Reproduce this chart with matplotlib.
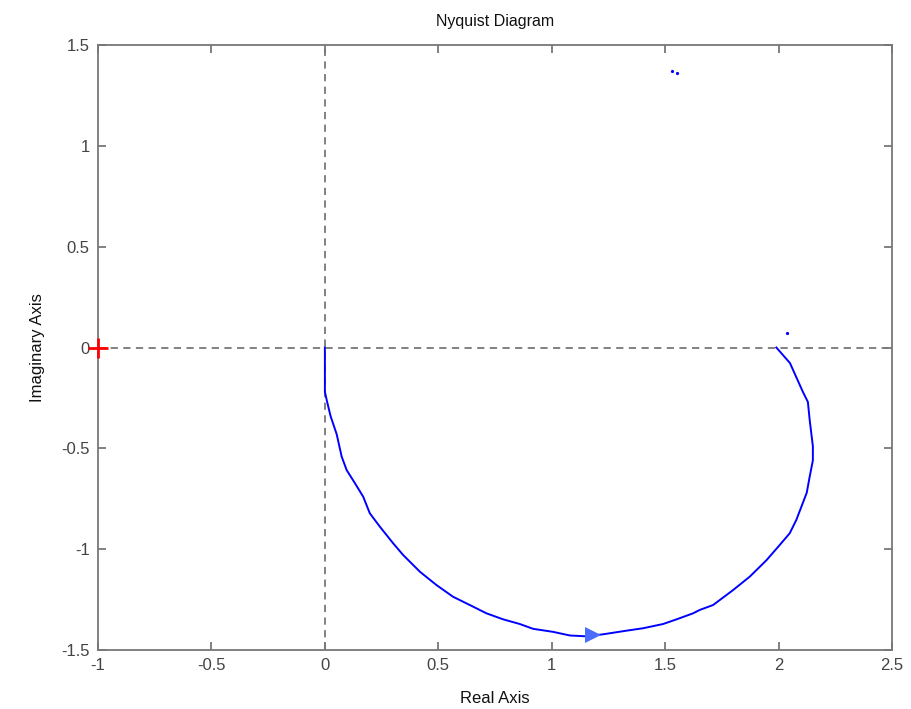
import matplotlib
matplotlib.use("Agg")
import matplotlib.pyplot as plt

plt.rcParams['font.family'] = ['Liberation Sans', 'DejaVu Sans']

# Nyquist curve (real, imaginary)
re_vals = [0.0, 0.0, 0.01, 0.025, 0.052, 0.074, 0.096, 0.132, 0.169, 0.198, 0.242,
           0.301, 0.345, 0.419, 0.492, 0.565, 0.639, 0.712, 0.786, 0.859, 0.918,
           1.006, 1.080, 1.15, 1.227, 1.33, 1.403, 1.491, 1.55, 1.623, 1.653, 1.711,
           1.799, 1.873, 1.947, 2.005, 2.049, 2.078, 2.107, 2.124, 2.137, 2.151,
           2.151, 2.137, 2.129, 2.107, 2.05, 1.99]
im_vals = [0.0, -0.22, -0.27, -0.34, -0.43, -0.541, -0.608, -0.672, -0.74, -0.822,
           -0.888, -0.971, -1.029, -1.112, -1.178, -1.236, -1.277, -1.318, -1.348,
           -1.371, -1.395, -1.410, -1.428, -1.432, -1.422, -1.404, -1.392, -1.371,
           -1.348, -1.318, -1.301, -1.277, -1.203, -1.136, -1.054, -0.979, -0.921,
           -0.855, -0.77, -0.72, -0.64, -0.56, -0.49, -0.36, -0.27, -0.22, -0.077, 0.0]

# stray points of the negative-frequency branch
stray_re = [1.528, 1.55, 2.035]
stray_im = [1.372, 1.362, 0.07]

# direction arrow
arrow_re = [1.18]
arrow_im = [-1.425]

# critical point
crit_re = [-1.0]
crit_im = [0.0]

xticks = [-1, -0.5, 0, 0.5, 1, 1.5, 2, 2.5]
xtick_labels = ['-1', '-0.5', '0', '0.5', '1', '1.5', '2', '2.5']
yticks = [-1.5, -1, -0.5, 0, 0.5, 1, 1.5]
ytick_labels = ['-1.5', '-1', '-0.5', '0', '0.5', '1', '1.5']

fig = plt.figure(figsize=(9.11, 7.09), dpi=100)
ax = fig.add_axes([0.1076, 0.0832, 0.8716, 0.8533])

ax.axhline(0, color='#777777', linestyle=(0, (4, 3)), linewidth=1.3, zorder=1)
ax.axvline(0, color='#777777', linestyle=(0, (4, 3)), linewidth=1.3, zorder=1)

ax.plot(re_vals, im_vals, color='#0000ff', linewidth=1.4, zorder=3)
ax.plot(stray_re, stray_im, linestyle='none', marker='o', markersize=1.3,
        color='#0000ff', zorder=3)
ax.plot(arrow_re, arrow_im, linestyle='none', marker='>', markersize=11,
        color='#4a6cff', markeredgewidth=0, zorder=4)
ax.plot(crit_re, crit_im, linestyle='none', marker='+', markersize=14,
        markeredgewidth=2, color='#ff0000', zorder=5, clip_on=False)

ax.set_xlim(-1, 2.5)
ax.set_ylim(-1.5, 1.5)
ax.set_xticks(xticks)
ax.set_xticklabels(xtick_labels)
ax.set_yticks(yticks)
ax.set_yticklabels(ytick_labels)

for s in ax.spines.values():
    s.set_color('#777777')
    s.set_linewidth(1.3)
ax.tick_params(direction='in', length=6, width=1.3, color='#777777',
               top=True, right=True, labelsize=12, labelcolor='#444444', pad=6)

ax.set_title('Nyquist Diagram', fontsize=11.5, color='#111111', pad=14)
ax.set_xlabel('Real Axis', fontsize=12, color='#111111', labelpad=13)
ax.set_ylabel('Imaginary Axis', fontsize=12, color='#111111', labelpad=12)

fig.savefig('out.png', dpi=100, facecolor='white')
